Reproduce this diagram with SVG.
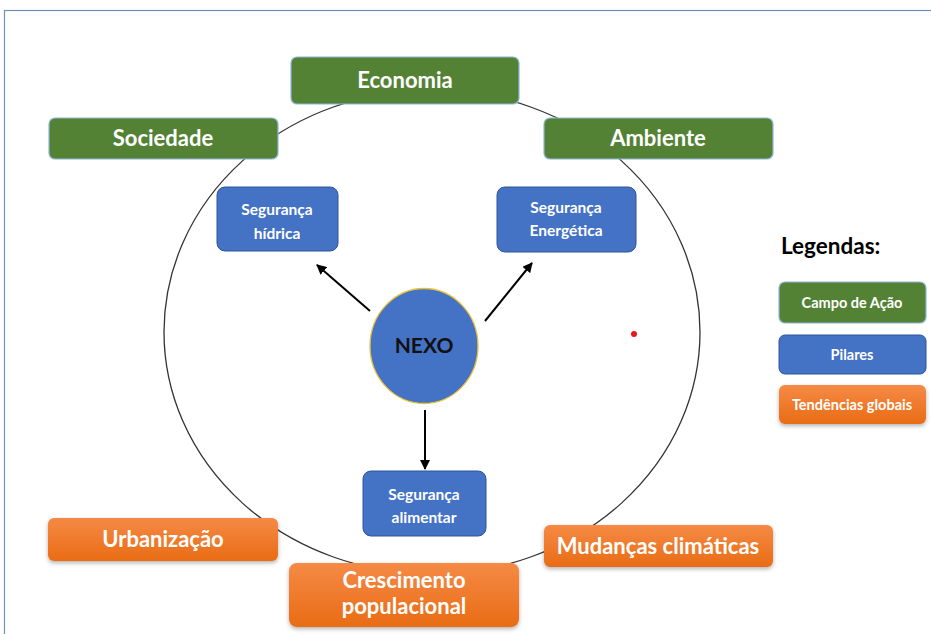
<svg xmlns="http://www.w3.org/2000/svg" width="931" height="634" viewBox="0 0 931 634">
  <defs>
    <linearGradient id="orangeGrad" x1="0" y1="0" x2="0" y2="1">
      <stop offset="0" stop-color="#f58a45"/>
      <stop offset="1" stop-color="#e96c15"/>
    </linearGradient>
    <filter id="shadow" x="-10%" y="-20%" width="120%" height="150%">
      <feDropShadow dx="0" dy="2" stdDeviation="2" flood-color="#000" flood-opacity="0.3"/>
    </filter>
    <marker id="arrow" viewBox="0 0 10 10" refX="9" refY="5" markerWidth="5" markerHeight="5" orient="auto">
      <path d="M0,0 L10,5 L0,10 z" fill="#000"/>
    </marker>
    <style>
      .green { fill: #548235; stroke: #8fb6d9; stroke-width: 1.2; }
      .blue { fill: #4472c4; stroke: #2f5597; stroke-width: 1; }
      .orange { fill: url(#orangeGrad); filter: url(#shadow); }
      .lbl { font-family: Lato, "Open Sans", "Liberation Sans", sans-serif; font-weight: bold; fill: #fff; text-anchor: middle; }
      .big { font-size: 22px; }
      .small { font-size: 15.5px; }
      .leg { font-size: 14.5px; }
      .conn { stroke: #000; stroke-width: 2; fill: none; marker-end: url(#arrow); }
    </style>
  </defs>

  <rect width="931" height="634" fill="#fff"/>
  <!-- frame -->
  <rect x="4.5" y="10.5" width="940" height="640" fill="none" stroke="#6f8fbf" stroke-width="1.2"/>

  <!-- surrounding ring -->
  <ellipse cx="432" cy="332" rx="268" ry="242" fill="none" stroke="#333" stroke-width="1.3"/>

  <!-- connectors -->
  <g id="connectors">
    <line class="conn" x1="370" y1="311" x2="317" y2="265"/>
    <line class="conn" x1="485" y1="321" x2="532" y2="263"/>
    <line class="conn" x1="425" y1="410" x2="425" y2="469"/>
  </g>

  <!-- fields of action -->
  <g id="economia">
    <rect class="green" x="291" y="57" width="228" height="47" rx="6"/>
    <text class="lbl big" x="405" y="88">Economia</text>
  </g>
  <g id="sociedade">
    <rect class="green" x="49" y="118" width="229" height="41" rx="6"/>
    <text class="lbl big" x="163" y="146">Sociedade</text>
  </g>
  <g id="ambiente">
    <rect class="green" x="544" y="118" width="229" height="41" rx="6"/>
    <text class="lbl big" x="658" y="146">Ambiente</text>
  </g>

  <!-- pillars -->
  <g id="seg-hidrica">
    <rect class="blue" x="217" y="187" width="121" height="64" rx="8"/>
    <text class="lbl small" x="277" y="215">Segurança</text>
    <text class="lbl small" x="277" y="239">hídrica</text>
  </g>
  <g id="seg-energetica">
    <rect class="blue" x="497" y="187" width="139" height="65" rx="8"/>
    <text class="lbl small" x="566" y="213">Segurança</text>
    <text class="lbl small" x="566" y="236">Energética</text>
  </g>
  <g id="seg-alimentar">
    <rect class="blue" x="363" y="471" width="123" height="65" rx="8"/>
    <text class="lbl small" x="424" y="500">Segurança</text>
    <text class="lbl small" x="424" y="523">alimentar</text>
  </g>

  <!-- centre -->
  <g id="nexo">
    <ellipse cx="424" cy="346" rx="54" ry="57.5" fill="#4472c4" stroke="#e8c13a" stroke-width="1.3"/>
    <text class="lbl" x="424" y="353" font-size="21" style="fill:#111">NEXO</text>
  </g>

  <!-- global trends -->
  <g id="urbanizacao">
    <rect class="orange" x="48" y="518" width="230" height="43" rx="6"/>
    <text class="lbl big" x="163" y="547">Urbanização</text>
  </g>
  <g id="crescimento">
    <rect class="orange" x="289" y="563" width="230" height="64" rx="8"/>
    <text class="lbl big" x="404" y="588">Crescimento</text>
    <text class="lbl big" x="404" y="614">populacional</text>
  </g>
  <g id="mudancas">
    <rect class="orange" x="544" y="525" width="229" height="42" rx="6"/>
    <text class="lbl big" x="658" y="554">Mudanças climáticas</text>
  </g>

  <circle cx="634" cy="334" r="3" fill="#e81818"/>

  <!-- legend -->
  <g id="legend">
    <text x="781" y="254" font-family="Lato, 'Open Sans', 'Liberation Sans', sans-serif" font-weight="bold" font-size="22.5" fill="#000">Legendas:</text>
    <g id="leg-campo">
      <rect class="green" x="779" y="282" width="147" height="41" rx="6"/>
      <text class="lbl leg" x="852" y="308">Campo de Ação</text>
    </g>
    <g id="leg-pilares">
      <rect class="blue" x="779" y="335" width="147" height="39" rx="6"/>
      <text class="lbl leg" x="852" y="360">Pilares</text>
    </g>
    <g id="leg-tendencias">
      <rect class="orange" x="779" y="385" width="147" height="39" rx="6"/>
      <text class="lbl leg" x="852" y="410">Tendências globais</text>
    </g>
  </g>
</svg>
